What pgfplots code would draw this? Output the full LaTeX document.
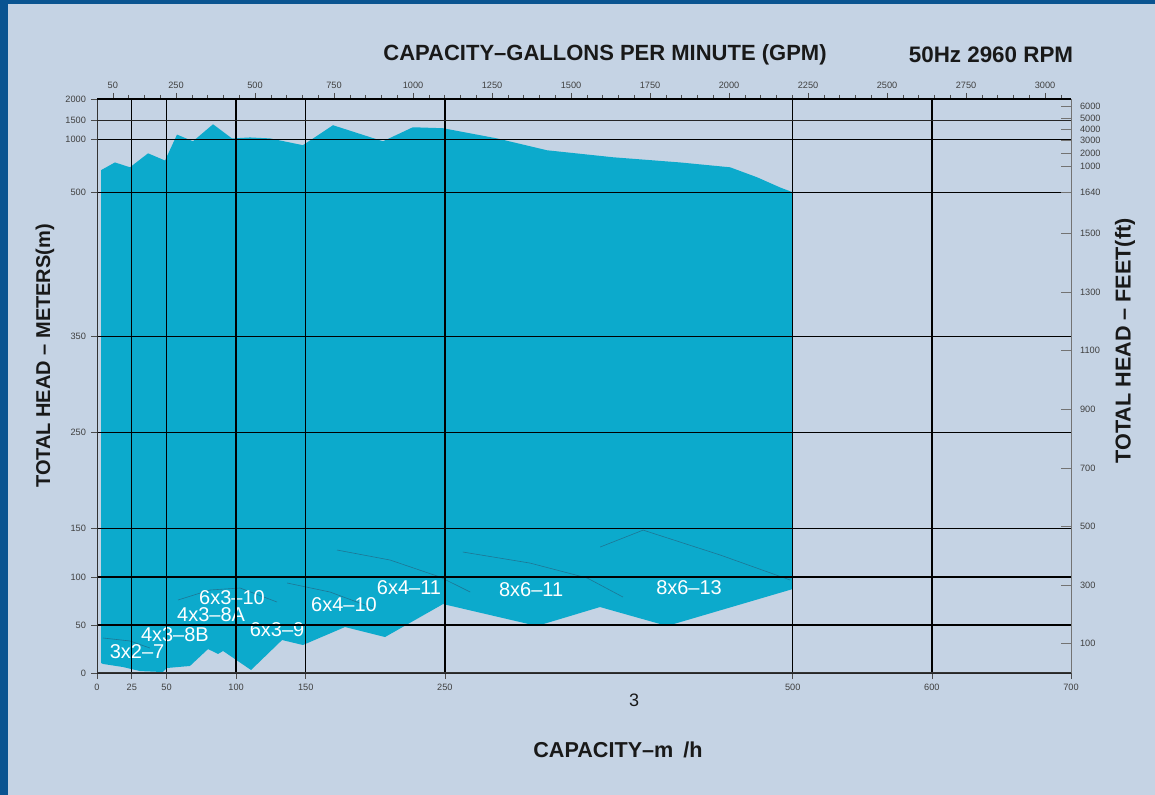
\documentclass[border=0pt]{standalone}
\usepackage{pgfplots}
\pgfplotsset{compat=1.18}
\usepackage{fontspec}
\setmainfont{Liberation Sans}
\definecolor{bg}{RGB}{197,211,228}
\definecolor{navy}{RGB}{10,84,145}
\definecolor{pump}{RGB}{12,170,204}
\definecolor{pumpline}{RGB}{30,118,148}
\newcommand{\tickfont}{\fontsize{4.6}{5}\selectfont}
\newcommand{\lblfont}{\fontsize{10}{12}\selectfont}
\pgfplotsset{
  every axis/.append style={
    /pgf/number format/assume math mode=true,
    /pgf/number format/1000 sep={},
    tick label style={font=\tickfont, text=black!75},
  },
}
\begin{document}
\begin{tikzpicture}
\fill[bg] (0pt,0pt) rectangle (577.5pt,397.5pt);
\fill[navy] (0pt,0pt) rectangle (4pt,397.5pt);
\fill[navy] (0pt,395.5pt) rectangle (577.5pt,397.5pt);
\useasboundingbox (0pt,0pt) rectangle (577.5pt,397.5pt);

% main axis: m3/h vs head (m), compressed above 500 m
\begin{axis}[
  at={(48.5pt,61pt)}, anchor=south west, scale only axis,
  width=487pt, height=287pt,
  xmin=0, xmax=700, ymin=0, ymax=2000,
  y coord trafo/.code={\pgfmathparse{(#1<=500)*(#1)+(#1>500)*(#1<=1000)*(500+(#1-500)*0.11)+(#1>1000)*(#1<=1500)*(555+(#1-1000)*0.04)+(#1>1500)*(575+(#1-1500)*0.044)}},
  axis x line*=bottom, axis y line*=left,
  axis line style={-, black!80, line width=0.5pt},
  xtick={25,50,100,150,250,500,600},
  xticklabels={25,50,100,150,250,500,600},
  extra x ticks={0,700}, extra x tick labels={0,700},
  extra x tick style={grid=none},
  ytick={50,100,150,250,350,500,1000},
  yticklabels={50,100,150,250,350,500,1000},
  extra y ticks={0,1500,2000}, extra y tick labels={0,1500,2000},
  extra y tick style={major grid style={black!85, line width=0.35pt}},
  grid=major, major grid style={black, line width=0.7pt},
  tick style={black!70, line width=0.3pt},
  major tick length=3pt, tick align=outside,
  xticklabel style={yshift=1pt},
  yticklabel style={xshift=1pt},
  axis on top, clip=false,
]
\addplot[fill=pump, draw=none] coordinates {
(2.9,709)(12.9,782)(23.7,736)(36.7,868)(48.9,800)(57.5,1125)(69,982)(83.4,1393)
(97,1025)(110,1050)(124.3,1025)(148,945)(169.6,1368)(205.5,982)(227,1315)(248.7,1290)
(287.5,1025)(323.4,897)(370.8,831)(419,782)(455,736)(474.3,642)(491,545)(500,500)
(500,87.3)(409.7,48.9)(361.5,68.6)(316.2,48.9)(248.7,71.7)(207,37.4)(178.2,47.8)
(148,29.1)(133,34.3)(110.7,3.1)(90.6,22.9)(87,19.8)(79.8,24.9)(66.8,7.3)(50.3,5.2)
(47.4,1)(30.9,2)(18.7,6.2)(4.3,9.4)(2.9,10.4)
} --cycle;
\addplot[pumpline, line width=0.3pt] coordinates {(361.6,131)(392.5,148.6)(447.9,122.7)(498.2,96.7)};
\addplot[pumpline, line width=0.3pt] coordinates {(263,125.8)(311.3,114.3)(352.3,98.8)(378,79)};
\addplot[pumpline, line width=0.3pt] coordinates {(172.5,127.9)(210.6,117.5)(246.6,99.8)(268.2,84.2)};
\addplot[pumpline, line width=0.3pt] coordinates {(136.6,93.6)(167.5,84.2)(198.4,67.6)};
\addplot[pumpline, line width=0.3pt] coordinates {(58.2,75.9)(81.2,86.3)(102.8,88.4)(129.4,73.8)};
\addplot[pumpline, line width=0.3pt] coordinates {(4.3,36.4)(23.7,33.3)(38,26)};
\node[white, font=\lblfont] at (axis cs:28.8,21.8) {3x2–7};
\node[white, font=\lblfont] at (axis cs:56,39.5) {4x3–8B};
\node[white, font=\lblfont] at (axis cs:82,60.5) {4x3–8A};
\node[white, font=\lblfont] at (axis cs:97,78.5) {6x3–10};
\node[white, font=\lblfont] at (axis cs:129.4,44.7) {6x3–9};
\node[white, font=\lblfont] at (axis cs:177.5,70.7) {6x4–10};
\node[white, font=\lblfont] at (axis cs:224.2,88.4) {6x4–11};
\node[white, font=\lblfont] at (axis cs:312,86.3) {8x6–11};
\node[white, font=\lblfont] at (axis cs:425.5,88.4) {8x6–13};
\end{axis}

% top axis: GPM
\begin{axis}[
  at={(48.5pt,61pt)}, anchor=south west, scale only axis,
  width=487pt, height=287pt,
  xmin=0, xmax=3082.1, ymin=0, ymax=1,
  axis x line*=top, axis y line=none,
  axis line style={-, black, line width=0.6pt},
  xtick={50,250,500,750,1000,1250,1500,1750,2000,2250,2500,2750,3000},
  minor xtick={100,150,...,3050},
  tick align=outside, major tick length=3pt, minor tick length=2pt,
  tick style={black!70, line width=0.3pt},
  xticklabel style={yshift=-1.5pt},
]
\end{axis}

% right axis: feet
\begin{axis}[
  at={(48.5pt,61pt)}, anchor=south west, scale only axis,
  width=487pt, height=287pt,
  xmin=0, xmax=1, ymin=0, ymax=597,
  axis y line*=right, axis x line=none,
  axis line style={-, black!55, line width=0.4pt},
  ytick={30.48,91.44,152.4,213.36,274.32,335.28,396.24,457.2,500,527,540.9,554,565.5,577,589.7},
  yticklabels={100,300,500,700,900,1100,1300,1500,1640,1000,2000,3000,4000,5000,6000},
  tick align=inside, major tick length=5pt,
  tick style={black!55, line width=0.3pt},
  yticklabel style={xshift=1pt},
]
\end{axis}

\node[font=\bfseries\fontsize{11}{13}\selectfont, text=black!90] at (302.5pt,370pt) {CAPACITY–GALLONS PER MINUTE (GPM)};
\node[font=\bfseries\fontsize{11.2}{13}\selectfont, text=black!90] at (495.5pt,370pt) {50Hz 2960 RPM};
\node[font=\bfseries\fontsize{10}{12}\selectfont, text=black!90, rotate=90] at (22.5pt,219.5pt) {TOTAL HEAD – METERS(m)};
\node[font=\bfseries\fontsize{10.8}{12}\selectfont, text=black!90, rotate=90] at (562.5pt,227pt) {TOTAL HEAD – FEET(ft)};
\node[font=\fontsize{9}{10}\selectfont, text=black!90] at (317pt,47.5pt) {3};
\node[font=\bfseries\fontsize{10.8}{12}\selectfont, text=black!90] at (309pt,22.5pt) {CAPACITY–m\hspace{5pt}/h};
\end{tikzpicture}
\end{document}
